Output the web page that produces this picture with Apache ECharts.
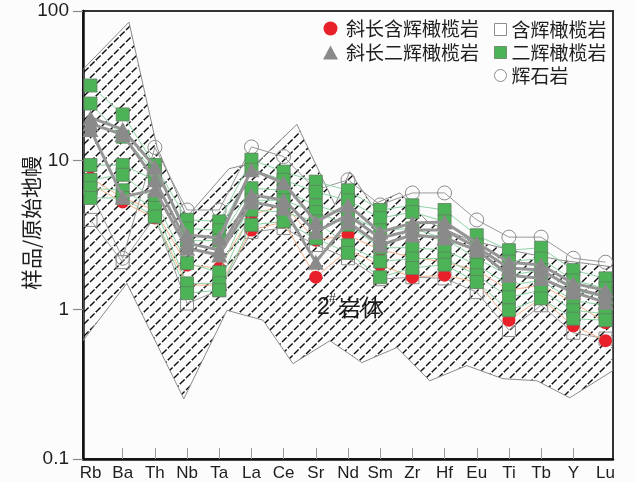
<!DOCTYPE html>
<html>
<head>
<meta charset="utf-8">
<script src="https://cdn.jsdelivr.net/npm/echarts@6/dist/echarts.min.js"></script>
<style>
  html, body { margin: 0; padding: 0; background: #fcfcfc; }
  #chart { width: 636px; height: 482px; }
</style>
</head>
<body>
<div id="chart"></div>
<script>
// Primitive-mantle normalised trace elements
const elements = ['Rb', 'Ba', 'Th', 'Nb', 'Ta', 'La', 'Ce', 'Sr', 'Nd', 'Sm', 'Zr', 'Hf', 'Eu', 'Ti', 'Tb', 'Y', 'Lu'];
const yTicks = [0.1, 1, 10, 100];

// 二辉橄榄岩
const lherz1 = [31.7, 20.3, 9.3, 4.0, 3.9, 10.1, 8.4, 7.2, 6.3, 4.65, 5.0, 4.65, 3.15, 2.5, 2.6, 1.84, 1.62];
const lherz2 = [24.0, 14.4, 8.4, 3.5, 3.4, 8.65, 7.4, 6.15, 5.4, 4.1, 4.5, 3.9, 2.7, 2.1, 2.2, 1.57, 1.39];
const lherz3 = [9.3, 9.3, 7.4, 2.9, 2.9, 6.5, 6.3, 5.0, 4.3, 3.4, 3.5, 3.0, 2.2, 1.7, 1.84, 1.35, 1.21];
const lherz4 = [7.4, 8.0, 5.4, 2.05, 1.78, 5.4, 5.4, 4.5, 3.7, 2.6, 2.6, 2.5, 2.0, 1.46, 1.57, 1.15, 1.07];
const lherz5 = [6.5, 6.3, 4.8, 1.5, 1.5, 4.65, 4.5, 3.9, 2.7, 2.1, 2.2, 2.2, 1.7, 1.21, 1.35, 0.99, 0.94];
const lherz6 = [5.6, 5.6, 4.2, 1.29, 1.35, 3.7, 3.9, 3.0, 2.4, 1.65, 1.9, 2.0, 1.53, 0.99, 1.19, 0.87, 0.85];

// 斜长二辉橄榄岩
const plagLherz1 = [19.3, 16.1, 9.06, 3.16, 3.02, 8.65, 7.07, 3.87, 5.03, 3.31, 3.80, 3.87, 2.79, 2.08, 1.99, 1.50, 1.35];
const plagLherz2 = [17.6, 14.9, 7.4, 2.79, 2.51, 5.87, 5.43, 3.31, 4.31, 3.02, 3.41, 3.41, 2.62, 1.90, 1.84, 1.39, 1.23];
const plagLherz3 = [16.1, 5.69, 6.34, 2.58, 2.32, 5.27, 4.80, 2.08, 3.87, 2.71, 3.16, 3.02, 2.51, 1.70, 1.62, 1.31, 1.12];

// 斜长含辉橄榄岩
const plagPer1 = [7.64, 5.6, 4.65, 1.99, 1.90, 4.31, 5.03, 2.92, 3.16, 2.51, 2.25, 2.08, 1.84, 1.35, 1.46, 1.12, 0.82];
const plagPer2 = [6.9, 5.27, 4.11, 1.46, 1.46, 3.41, 3.87, 1.65, 2.51, 1.99, 1.65, 1.70, 1.53, 0.85, 1.19, 0.78, 0.62];

// 含辉橄榄岩
const pxPer = [3.99, 2.08, 4.18, 1.10, 1.35, 3.31, 3.52, 2.71, 2.21, 1.6, 1.65, 1.62, 1.31, 0.73, 1.07, 0.70, 0.64];

// 辉石岩
const pyroxenite = [6.15, 2.21, 12.2, 4.65, 4.65, 12.3, 10.6, 6.34, 7.4, 5.03, 6.05, 6.05, 3.99, 3.06, 3.06, 2.21, 2.08];

// 2# intrusion field outline (element position, normalised value), upper edge then lower edge
const fieldX = [-0.233, 1.196, 2.065, 2.997, 4.301, 5.202, 6.413, 7.593, 8.059, 8.742, 9.612, 10.48, 11.79, 13.34, 14.58, 16.233,
                16.233, 14.89, 13.87, 12.81, 11.69, 10.54, 9.52, 8.43, 7.44, 6.29, 5.36, 4.24, 2.90, 1.13, -0.233];
const fieldY = [40.7, 84.2, 12.3, 4.18, 8.78, 9.8, 17.4, 5.03, 8.38, 5.03, 6.05, 3.87, 2.92, 2.43, 2.15, 1.93,
                0.391, 0.257, 0.334, 0.345, 0.422, 0.334, 0.558, 0.442, 0.62, 0.435, 0.85, 0.99, 0.253, 1.50, 0.62];

const NAME_PLAG_PER = '斜长含辉橄榄岩';
const NAME_PLAG_LHERZ = '斜长二辉橄榄岩';
const NAME_PX_PER = '含辉橄榄岩';
const NAME_LHERZ = '二辉橄榄岩';
const NAME_PYROX = '辉石岩';

// Repeating tile of dashed 45° strokes for the field fill
function hatchTile() {
  const s = 12;
  const c = document.createElement('canvas');
  c.width = s; c.height = s;
  const g = c.getContext('2d');
  g.strokeStyle = '#0a0a0a';
  g.lineWidth = 1.35;
  g.setLineDash([6.5, 1.98]);
  g.beginPath(); g.moveTo(0, s); g.lineTo(s, 0); g.stroke();
  g.setLineDash([]);
  g.beginPath();
  g.moveTo(-1, 1); g.lineTo(1, -1);
  g.moveTo(s - 1, s + 1); g.lineTo(s + 1, s - 1);
  g.stroke();
  return c;
}
const hatch = hatchTile();

const toPairs = arr => arr.map((v, i) => [i, v]);

function sampleSeries(name, values, opt) {
  return {
    type: 'line',
    name: name,
    data: toPairs(values),
    z: opt.z,
    symbol: opt.symbol,
    symbolSize: opt.size,
    showAllSymbol: true,
    lineStyle: { color: opt.line, width: opt.lineWidth },
    itemStyle: opt.item,
    emphasis: { disabled: true },
    silent: true
  };
}

const greenOpt = { z: 4, symbol: 'rect', size: [13, 13], line: '#8fd3a6', lineWidth: 1,
  item: { color: '#4cb456', borderColor: '#5f7f62', borderWidth: 0.8 } };
const triOpt = { z: 5, symbol: 'triangle', size: [16, 15], line: '#959595', lineWidth: 3,
  item: { color: '#8a8a8a' } };
const redOpt = { z: 3, symbol: 'circle', size: 13, line: '#f4b48a', lineWidth: 1,
  item: { color: '#e8202a' } };
const hollowSqOpt = { z: 2, symbol: 'rect', size: [13, 13], line: '#9a9a9a', lineWidth: 1,
  item: { color: 'rgba(255,255,255,0)', borderColor: '#8c8c8c', borderWidth: 1 } };
const hollowCircOpt = { z: 2, symbol: 'circle', size: 14, line: '#9a9a9a', lineWidth: 1,
  item: { color: 'rgba(255,255,255,0)', borderColor: '#8c8c8c', borderWidth: 1 } };

const series = [
  {
    type: 'custom',
    name: 'field',
    coordinateSystem: 'cartesian2d',
    data: [[0, 1]],
    clip: true,
    silent: true,
    z: 1,
    renderItem: function (params, api) {
      const pts = fieldX.map((x, i) => api.coord([x, fieldY[i]]));
      return {
        type: 'polygon',
        shape: { points: pts },
        style: { fill: { image: hatch, repeat: 'repeat' }, stroke: '#8c8c8c', lineWidth: 1 }
      };
    }
  },
  sampleSeries(NAME_PX_PER, pxPer, hollowSqOpt),
  sampleSeries(NAME_PYROX, pyroxenite, hollowCircOpt),
  sampleSeries(NAME_PLAG_PER, plagPer1, redOpt),
  sampleSeries(NAME_PLAG_PER, plagPer2, redOpt),
  sampleSeries(NAME_LHERZ, lherz1, greenOpt),
  sampleSeries(NAME_LHERZ, lherz2, greenOpt),
  sampleSeries(NAME_LHERZ, lherz3, greenOpt),
  sampleSeries(NAME_LHERZ, lherz4, greenOpt),
  sampleSeries(NAME_LHERZ, lherz5, greenOpt),
  sampleSeries(NAME_LHERZ, lherz6, greenOpt),
  sampleSeries(NAME_PLAG_LHERZ, plagLherz1, triOpt),
  sampleSeries(NAME_PLAG_LHERZ, plagLherz2, triOpt),
  sampleSeries(NAME_PLAG_LHERZ, plagLherz3, triOpt)
];

const legendText = { fontFamily: '"Noto Sans CJK SC", sans-serif', fontSize: 19, color: '#1e1e1e' };

const chart = echarts.init(document.getElementById('chart'), null, { renderer: 'canvas' });
chart.setOption({
  animation: false,
  backgroundColor: '#fcfcfc',
  grid: { left: 83, right: 23, top: 11, bottom: 23, show: true, borderColor: '#333', borderWidth: 2 },
  xAxis: {
    type: 'value',
    min: -0.233,
    max: 16.233,
    splitLine: { show: false },
    axisLine: { show: true, onZero: false, lineStyle: { color: '#111', width: 2.5 } },
    axisTick: { show: true, inside: true, length: 11, customValues: elements.slice(1, -1).map((e, i) => i + 1),
      lineStyle: { color: '#9a9a9a', width: 1 } },
    axisLabel: {
      customValues: elements.map((e, i) => i),
      formatter: v => elements[Math.round(v)] || '',
      margin: 6, fontFamily: '"Liberation Sans", Arial, sans-serif', fontSize: 17, color: '#1e1e1e'
    }
  },
  yAxis: {
    type: 'log',
    logBase: 10,
    min: yTicks[0],
    max: yTicks[yTicks.length - 1],
    splitLine: { show: false },
    minorTick: { show: false },
    axisLine: { show: true, onZero: false, lineStyle: { color: '#111', width: 2.5 } },
    axisTick: { show: true, inside: false, length: 10, lineStyle: { color: '#8a8a8a', width: 1.2 } },
    axisLabel: {
      margin: 14, fontFamily: '"Liberation Sans", Arial, sans-serif', fontSize: 19, color: '#1e1e1e',
      formatter: v => String(v)
    }
  },
  legend: [
    {
      left: 318, top: 14, orient: 'vertical', itemGap: 5, itemWidth: 15, itemHeight: 14,
      textStyle: Object.assign({ padding: [0, 0, 0, 3] }, legendText), selectedMode: false,
      data: [
        { name: NAME_PLAG_PER, icon: 'circle', itemStyle: { color: '#e8202a', borderWidth: 0 } },
        { name: NAME_PLAG_LHERZ, icon: 'triangle', itemStyle: { color: '#8a8a8a', borderWidth: 0 } }
      ]
    },
    {
      left: 489, top: 15, orient: 'vertical', itemGap: 4, itemWidth: 12, itemHeight: 12,
      textStyle: legendText, selectedMode: false,
      data: [
        { name: NAME_PX_PER, icon: 'rect', itemStyle: { color: '#ffffff', borderColor: '#8c8c8c', borderWidth: 1 } },
        { name: NAME_LHERZ, icon: 'rect', itemStyle: { color: '#4cb456', borderColor: '#5f7f62', borderWidth: 0.8 } },
        { name: NAME_PYROX, icon: 'circle', itemStyle: { color: '#ffffff', borderColor: '#8c8c8c', borderWidth: 1 } }
      ]
    }
  ],
  graphic: [
    {
      type: 'text', x: 31, y: 223, rotation: Math.PI / 2,
      style: { text: '样品/原始地幔', fill: '#1e1e1e', align: 'center', verticalAlign: 'middle',
        font: '21px "Noto Sans CJK SC", sans-serif' }
    },
    {
      type: 'text', x: 317, y: 308,
      style: { text: '2', fill: '#1e1e1e', align: 'left', verticalAlign: 'middle',
        font: '23px "Liberation Sans", Arial, sans-serif' }
    },
    {
      type: 'text', x: 329, y: 299,
      style: { text: '#', fill: '#1e1e1e', align: 'left', verticalAlign: 'middle',
        font: '12px "Liberation Sans", Arial, sans-serif' }
    },
    {
      type: 'text', x: 338, y: 307,
      style: { text: '岩体', fill: '#1e1e1e', align: 'left', verticalAlign: 'middle',
        font: '23px "Noto Sans CJK SC", sans-serif' }
    }
  ],
  series: series
});
</script>
</body>
</html>
